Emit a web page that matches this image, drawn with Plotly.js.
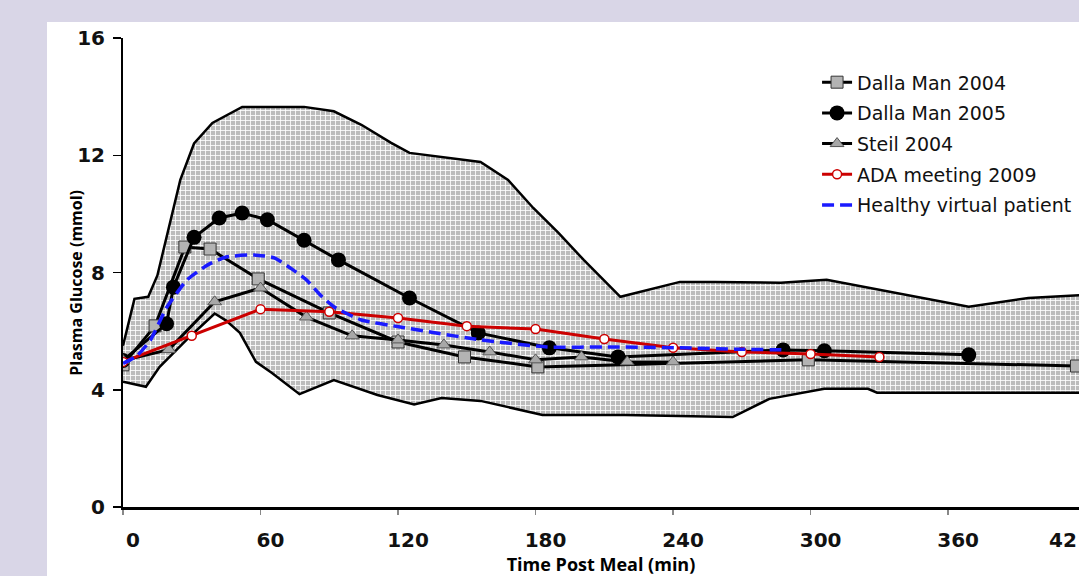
<!DOCTYPE html>
<html><head><meta charset="utf-8">
<script src="https://cdn.plot.ly/plotly-3.0.1.min.js"></script>
<style>html,body{margin:0;padding:0;background:#d9d6e7;overflow:hidden}</style>
</head><body><div id="chart" style="width:1079px;height:576px"></div>
<script>
// Range band (grey area): upper and lower envelopes
const bandUpperT = [0, 5, 11, 15, 25, 31, 39, 52, 79, 92, 104, 117, 125, 135, 156, 168, 179, 190, 201, 217, 226, 243, 258, 287, 307, 369, 395, 420];
const bandUpperV = [5.5, 7.1, 7.17, 7.9, 11.16, 12.4, 13.1, 13.65, 13.65, 13.5, 13.04, 12.42, 12.08, 11.98, 11.77, 11.16, 10.2, 9.35, 8.43, 7.17, 7.34, 7.68, 7.68, 7.65, 7.75, 6.83, 7.13, 7.24];
const bandLowerT = [0, 10, 16, 29, 40, 45, 51, 58, 65, 77, 92, 111, 127, 139, 156, 183, 219, 266, 282, 306, 325, 329, 420];
const bandLowerV = [4.27, 4.1, 4.78, 5.8, 6.6, 6.36, 5.94, 4.95, 4.57, 3.85, 4.33, 3.82, 3.5, 3.72, 3.62, 3.14, 3.14, 3.07, 3.69, 4.03, 4.03, 3.9, 3.9];

// Series
const dm2004T = [0, 14, 27, 38, 59, 90, 120, 149, 181, 299, 416];
const dm2004V = [4.85, 6.18, 8.87, 8.8, 7.78, 6.62, 5.63, 5.12, 4.78, 5.02, 4.81];

const dm2005T = [0, 19, 22, 31, 42, 52, 63, 79, 94, 125, 155, 186, 216, 288, 306, 369];
const dm2005V = [5.0, 6.25, 7.5, 9.2, 9.86, 10.03, 9.8, 9.1, 8.43, 7.13, 5.94, 5.43, 5.12, 5.36, 5.33, 5.19];

const steilT = [0, 20, 40, 60, 80, 100, 120, 140, 160, 180, 200, 220, 240];
const steilV = [5.0, 5.37, 7.0, 7.47, 6.48, 5.84, 5.7, 5.53, 5.29, 5.02, 5.12, 4.95, 4.95];

const adaT = [0, 30, 60, 90, 120, 150, 180, 210, 240, 270, 300, 330];
const adaV = [4.95, 5.84, 6.75, 6.66, 6.45, 6.17, 6.07, 5.73, 5.43, 5.29, 5.22, 5.12];

const hvpT = [0, 6, 12, 19, 28, 37, 45, 57, 66, 74, 80, 86, 92, 104, 121, 134, 156, 185, 214, 243, 270, 290];
const hvpV = [4.9, 5.15, 5.7, 6.8, 7.75, 8.26, 8.53, 8.6, 8.5, 8.1, 7.75, 7.24, 6.83, 6.38, 6.14, 5.97, 5.7, 5.46, 5.46, 5.43, 5.38, 5.36];

const seriesNames = ['Dalla Man 2004', 'Dalla Man 2005', 'Steil 2004', 'ADA meeting 2009', 'Healthy virtual patient'];
const xTickVals = [0, 60, 120, 180, 240, 300, 360];
const yTickVals = [0, 4, 8, 12, 16];
const xTitle = 'Time Post Meal (min)';
const yTitle = 'Plasma Glucose (mmol)';

const tickFont = {family: 'DejaVu Sans', size: 20, color: '#111', weight: 'bold'};

const traces = [
  {x: bandLowerT, y: bandLowerV, mode: 'lines', line: {color: '#000', width: 2.5},
   showlegend: false, hoverinfo: 'skip'},
  {x: bandUpperT, y: bandUpperV, mode: 'lines', line: {color: '#000', width: 2.5},
   fill: 'tonexty', fillcolor: '#bdbdbd',
   fillpattern: {shape: '+', bgcolor: '#bcbcbc', fgcolor: '#ffffff', size: 5, solidity: 0.3},
   showlegend: false, hoverinfo: 'skip'},
  {x: dm2004T, y: dm2004V, name: seriesNames[0], legendgroup: 'a', mode: 'lines+markers',
   line: {color: '#000', width: 3},
   marker: {symbol: 'square', size: 12, color: '#b3b3b3', line: {color: '#333', width: 1}}},
  {x: dm2005T, y: dm2005V, name: seriesNames[1], legendgroup: 'b', mode: 'lines+markers',
   line: {color: '#000', width: 3},
   marker: {symbol: 'circle', size: 15, color: '#000'}},
  {x: steilT, y: steilV, name: seriesNames[2], legendgroup: 'c', mode: 'lines+markers',
   line: {color: '#000', width: 3},
   marker: {symbol: 'triangle-up', size: 12, color: '#a8a8a8', line: {color: '#555', width: 1}}},
  {x: adaT, y: adaV, name: seriesNames[3], legendgroup: 'd', mode: 'lines+markers',
   line: {color: '#cc0000', width: 3},
   marker: {symbol: 'circle', size: 9, color: '#ffffff', line: {color: '#cc0000', width: 1.5}}},
  {x: hvpT, y: hvpV, name: seriesNames[4], legendgroup: 'e', mode: 'lines',
   line: {color: '#1a1aff', width: 3.5, dash: '12px,6px', shape: 'spline', smoothing: 0.5}}
];

const layout = {
  width: 1079, height: 576,
  paper_bgcolor: '#d9d6e7', plot_bgcolor: 'rgba(0,0,0,0)',
  margin: {l: 123, r: 0, t: 38, b: 69},
  showlegend: true,
  legend: {x: 0.726, y: 0.946, xanchor: 'left', yanchor: 'top', bgcolor: 'rgba(0,0,0,0)',
           font: {family: 'DejaVu Sans', size: 19, color: '#111'}, tracegroupgap: 3},
  xaxis: {range: [0, 417.1], tickvals: xTickVals, ticktext: xTickVals.map(String),
          showgrid: false, zeroline: false, showline: true, linecolor: '#000', linewidth: 2.5,
          ticks: 'outside', ticklen: 5, tickwidth: 1.5, tickcolor: '#888',
          tickfont: tickFont, ticklabelshift: 10, ticklabelstandoff: 8,
          title: {text: xTitle, standoff: 9,
                  font: {family: 'Open Sans', size: 18, color: '#000', weight: 'bold'}}},
  yaxis: {range: [0, 16], tickvals: yTickVals, ticktext: yTickVals.map(String),
          showgrid: false, zeroline: false, showline: true, linecolor: '#000', linewidth: 2,
          ticks: 'outside', ticklen: 8, tickwidth: 1.5, tickcolor: '#000',
          tickfont: tickFont, ticklabelstandoff: 4},
  shapes: [
    {type: 'rect', xref: 'paper', yref: 'paper', x0: -0.0795, x1: 1.2, y0: -0.3, y1: 1.034,
     fillcolor: '#ffffff', line: {width: 0}, layer: 'below'}
  ],
  annotations: [
    {xref: 'paper', yref: 'paper', x: 0.9995, y: -0.0704, text: '42', showarrow: false,
     xanchor: 'right', yanchor: 'middle', font: tickFont},
    {xref: 'paper', yref: 'paper', x: -0.0492, y: 0.478, text: yTitle, showarrow: false,
     textangle: -90, xanchor: 'center', yanchor: 'middle',
     font: {family: 'Open Sans', size: 16, color: '#000', weight: 'bold'}}
  ]
};

Plotly.newPlot('chart', traces, layout, {displayModeBar: false, staticPlot: true});
</script>
</body></html>
